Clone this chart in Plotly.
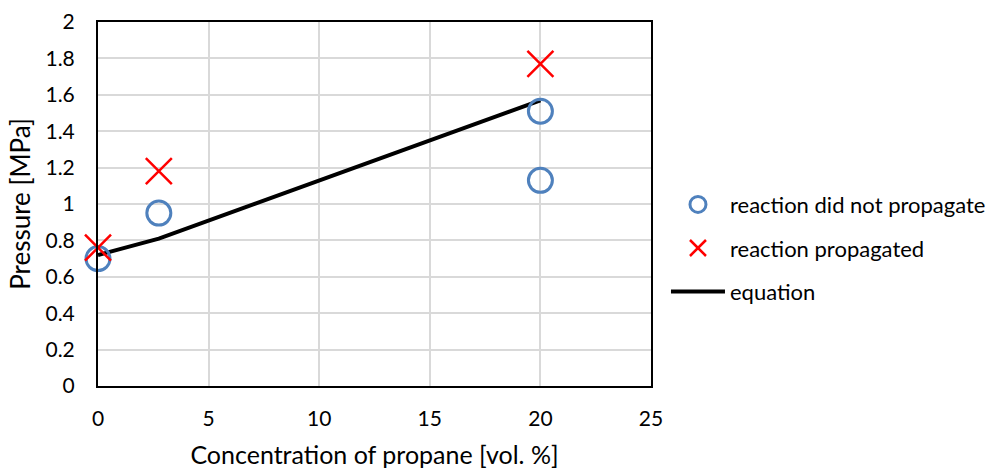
import plotly.graph_objects as go

# Data
no_prop_x = [0, 2.75, 20, 20]
no_prop_y = [0.70, 0.95, 1.51, 1.13]
prop_x = [0, 2.75, 20]
prop_y = [0.76, 1.18, 1.77]
eq_x = [0, 2.75, 20]
eq_y = [0.72, 0.81, 1.57]

x_ticks = [0, 5, 10, 15, 20, 25]
y_ticks = [0, 0.2, 0.4, 0.6, 0.8, 1, 1.2, 1.4, 1.6, 1.8, 2]

FONT = "Lato, 'Open Sans', sans-serif"

fig = go.Figure()
fig.add_trace(go.Scatter(
    x=eq_x, y=eq_y, mode="lines", name="equation",
    line=dict(color="black", width=4), legendrank=3, legendgroup="c",
    cliponaxis=False))
fig.add_trace(go.Scatter(
    x=no_prop_x, y=no_prop_y, mode="markers", name="reaction did not propagate",
    marker=dict(symbol="circle-open", size=24, color="#4F81BD", line=dict(width=3, color="#4F81BD")),
    legendrank=1, legendgroup="a", cliponaxis=False))
fig.add_trace(go.Scatter(
    x=prop_x, y=prop_y, mode="markers", name="reaction propagated",
    marker=dict(symbol="x-thin-open", size=26, color="#FF0000", line=dict(width=2.5, color="#FF0000")),
    legendrank=2, legendgroup="b", cliponaxis=False))

fig.update_layout(
    width=994, height=469,
    margin=dict(l=98, r=343, t=22, b=83),
    paper_bgcolor="white", plot_bgcolor="white",
    font=dict(family=FONT, size=20, color="black"),
    legend=dict(xref="container", yref="container", x=0.670, y=0.471,
                xanchor="left", yanchor="middle",
                font=dict(size=22), tracegroupgap=12, itemsizing="trace",
                itemwidth=54),
    showlegend=True,
)
fig.update_xaxes(
    range=[0, 25], tickvals=x_ticks, ticktext=[str(v) for v in x_ticks],
    showgrid=True, gridcolor="#D9D9D9", gridwidth=1.5,
    showline=True, linecolor="black", linewidth=2, mirror=True,
    zeroline=False, ticks="outside", ticklen=13, tickcolor="rgba(0,0,0,0)",
    tickfont=dict(size=21), automargin=False,
    title=dict(text="Concentration of propane [vol. %]", standoff=20,
               font=dict(family=FONT, size=25)),
)
fig.update_yaxes(
    range=[0, 2], tickvals=y_ticks, ticktext=[f"{v:g}" for v in y_ticks],
    showgrid=True, gridcolor="#D9D9D9", gridwidth=1.5,
    showline=True, linecolor="black", linewidth=2, mirror=True,
    zeroline=False, ticks="outside", ticklen=17, tickcolor="rgba(0,0,0,0)",
    tickfont=dict(size=21), automargin=False,
    title=dict(text="Pressure [MPa]", standoff=7,
               font=dict(family=FONT, size=26)),
)

fig.write_html("out.html", config={"displayModeBar": False},
               post_script="document.body.style.margin='0px';")
